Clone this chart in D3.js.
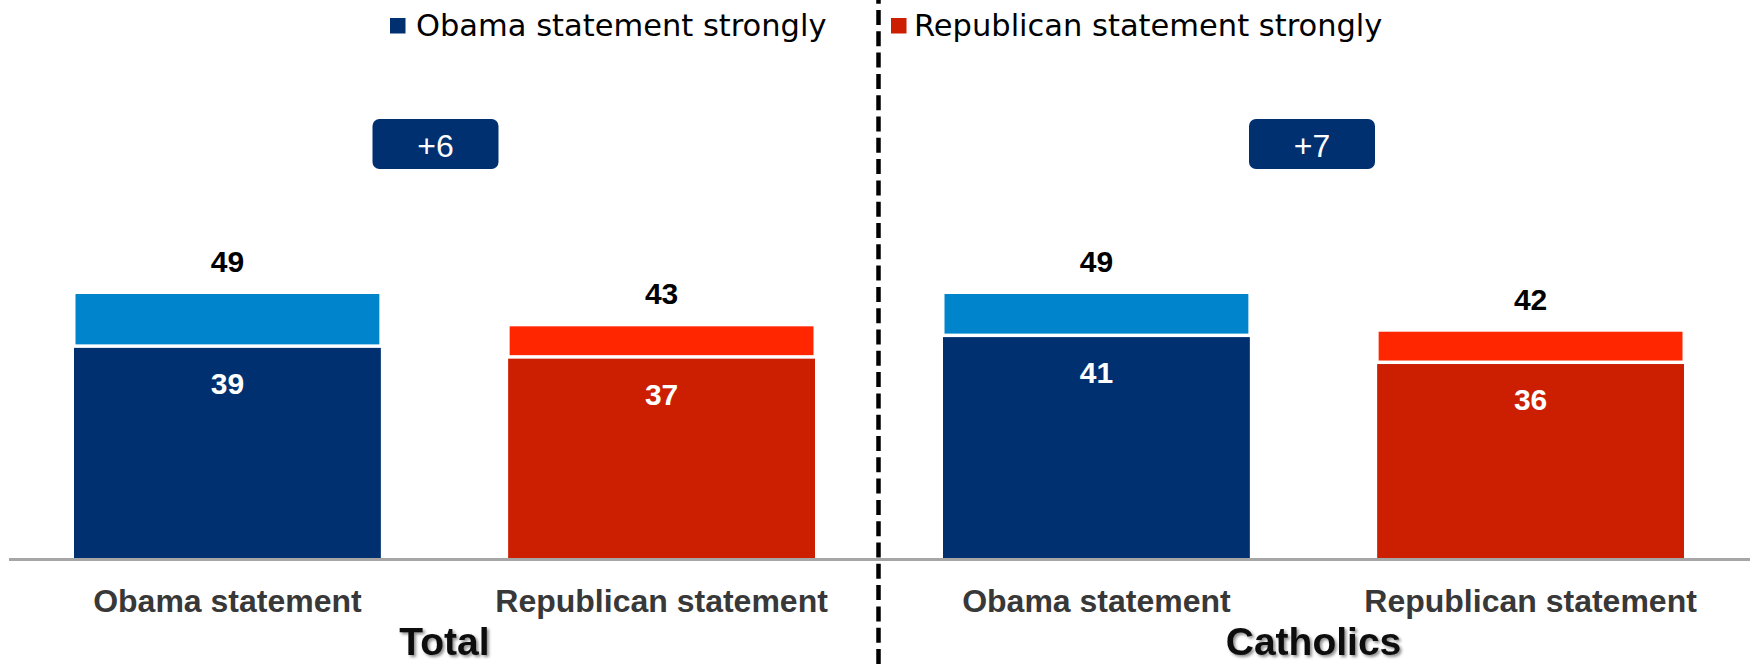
<!DOCTYPE html>
<html>
<head>
<meta charset="utf-8">
<script src="https://cdn.jsdelivr.net/npm/d3@7"></script>
<style>
  html, body { margin: 0; padding: 0; background: #fff; }
  svg { display: block; }
</style>
</head>
<body>
<svg id="chart" width="1750" height="664"></svg>
<script>
// ---- data ----
const groups = ["Total", "Catholics"];
const statements = ["Obama statement", "Republican statement"];
const totalObama = [49, 49];
const totalRepublican = [43, 42];
const strongObama = [39, 41];
const strongRepublican = [37, 36];
const legendLabels = ["Obama statement strongly", "Republican statement strongly"];

// ---- styles ----
const darkColors = ["#003070", "#cc1e00"];
const lightColors = ["#0085cc", "#ff2600"];
const boxFill = "#003070";

const rows = [];
groups.forEach((g, gi) => {
  rows.push({group: g, stmt: statements[0], si: 0, total: totalObama[gi], strong: strongObama[gi]});
  rows.push({group: g, stmt: statements[1], si: 1, total: totalRepublican[gi], strong: strongRepublican[gi]});
});

const svg = d3.select("#chart");
const baseY = 558;

const x0 = d3.scaleBand().domain(groups).range([74, 1684]).paddingInner(0.1473).paddingOuter(0);
const x1 = d3.scaleBand().domain(statements).range([0, x0.bandwidth()]).paddingInner(0.2932).paddingOuter(0);
const y = d3.scaleLinear().domain([0, 49]).range([baseY, 294]);

// drop shadow filter for titles
const defs = svg.append("defs");
const f = defs.append("filter").attr("id", "shadow").attr("x", "-10%").attr("y", "-10%").attr("width", "130%").attr("height", "140%");
f.append("feDropShadow").attr("dx", 2).attr("dy", 2).attr("stdDeviation", 1.5).attr("flood-color", "#000").attr("flood-opacity", 0.45);

const g = svg.append("g");

const bx = d => x0(d.group) + x1(d.stmt);
const bw = x1.bandwidth();

// light (total) segment
g.selectAll("rect.light").data(rows).join("rect")
  .attr("class", "light")
  .attr("x", d => bx(d) + 1.5)
  .attr("width", bw - 3)
  .attr("y", d => y(d.total))
  .attr("height", d => y(d.strong) - 3.5 - y(d.total))
  .attr("fill", d => lightColors[d.si]);

// dark (strongly) segment
g.selectAll("rect.dark").data(rows).join("rect")
  .attr("class", "dark")
  .attr("x", d => bx(d))
  .attr("width", bw)
  .attr("y", d => y(d.strong))
  .attr("height", d => y(0) - y(d.strong))
  .attr("fill", d => darkColors[d.si]);

// axis baseline
svg.append("line")
  .attr("x1", 9).attr("x2", 1750)
  .attr("y1", baseY + 1.5).attr("y2", baseY + 1.5)
  .attr("stroke", "#a6a6a6").attr("stroke-width", 3);

// total labels
g.selectAll("text.tot").data(rows).join("text")
  .attr("class", "tot")
  .attr("x", d => bx(d) + bw / 2)
  .attr("y", d => y(d.total) - 22)
  .attr("text-anchor", "middle")
  .attr("font-family", "Liberation Sans, Arial, sans-serif")
  .attr("font-weight", "bold")
  .attr("font-size", 30)
  .attr("fill", "#000")
  .text(d => d.total);

// strong labels
g.selectAll("text.str").data(rows).join("text")
  .attr("class", "str")
  .attr("x", d => bx(d) + bw / 2)
  .attr("y", d => y(d.strong) + 46)
  .attr("text-anchor", "middle")
  .attr("font-family", "Liberation Sans, Arial, sans-serif")
  .attr("font-weight", "bold")
  .attr("font-size", 30)
  .attr("fill", "#fff")
  .text(d => d.strong);

// category labels
g.selectAll("text.cat").data(rows).join("text")
  .attr("class", "cat")
  .attr("x", d => bx(d) + bw / 2)
  .attr("y", 612)
  .attr("text-anchor", "middle")
  .attr("font-family", "Liberation Sans, Arial, sans-serif")
  .attr("font-weight", "bold")
  .attr("font-size", 32)
  .attr("fill", "#383838")
  .text(d => d.stmt);

// group titles
g.selectAll("text.grp").data(groups).join("text")
  .attr("class", "grp")
  .attr("x", d => x0(d) + x0.bandwidth() / 2)
  .attr("y", 655)
  .attr("text-anchor", "middle")
  .attr("font-family", "Liberation Sans, Arial, sans-serif")
  .attr("font-weight", "bold")
  .attr("font-size", 39)
  .attr("fill", "#111")
  .attr("filter", "url(#shadow)")
  .text(d => d);

// difference boxes
const nudge = [-9, -1.5];
const diffs = groups.map((gr, i) => ({group: gr, i, v: totalObama[i] - totalRepublican[i]}));
const boxW = 126, boxH = 50, boxY = 119;
const bg = g.selectAll("g.diff").data(diffs).join("g").attr("class", "diff")
  .attr("transform", d => `translate(${x0(d.group) + x0.bandwidth() / 2 + nudge[d.i]},${boxY})`);
bg.append("rect")
  .attr("x", -boxW / 2).attr("y", 0)
  .attr("width", boxW).attr("height", boxH)
  .attr("rx", 7).attr("ry", 7)
  .attr("fill", boxFill);
bg.append("text")
  .attr("x", 0).attr("y", 38)
  .attr("text-anchor", "middle")
  .attr("font-family", "Liberation Sans, Arial, sans-serif")
  .attr("font-size", 32)
  .attr("fill", "#fff")
  .text(d => (d.v > 0 ? "+" : "") + d.v);

// dashed divider
const divX = (x0(groups[0]) + x0.bandwidth() + x0(groups[1])) / 2 - 0.5;
svg.append("line")
  .attr("x1", divX).attr("x2", divX)
  .attr("y1", 0).attr("y2", 664)
  .attr("stroke", "#000").attr("stroke-width", 4.5)
  .attr("stroke-dasharray", "15,6.3")
  .attr("stroke-dashoffset", 11.3);

// legend
const legendX = [390, 891];
const leg = svg.selectAll("g.leg").data(legendLabels).join("g").attr("class", "leg")
  .attr("transform", (d, i) => `translate(${legendX[i]},0)`);
leg.append("rect")
  .attr("x", 0).attr("y", 18).attr("width", 15.5).attr("height", 15.5)
  .attr("fill", (d, i) => darkColors[i]);
leg.append("text")
  .attr("x", (d, i) => i === 0 ? 26 : 23)
  .attr("y", 36)
  .attr("font-family", "DejaVu Sans, sans-serif")
  .attr("font-size", 30.5)
  .attr("fill", "#000")
  .text(d => d);
</script>
</body>
</html>
